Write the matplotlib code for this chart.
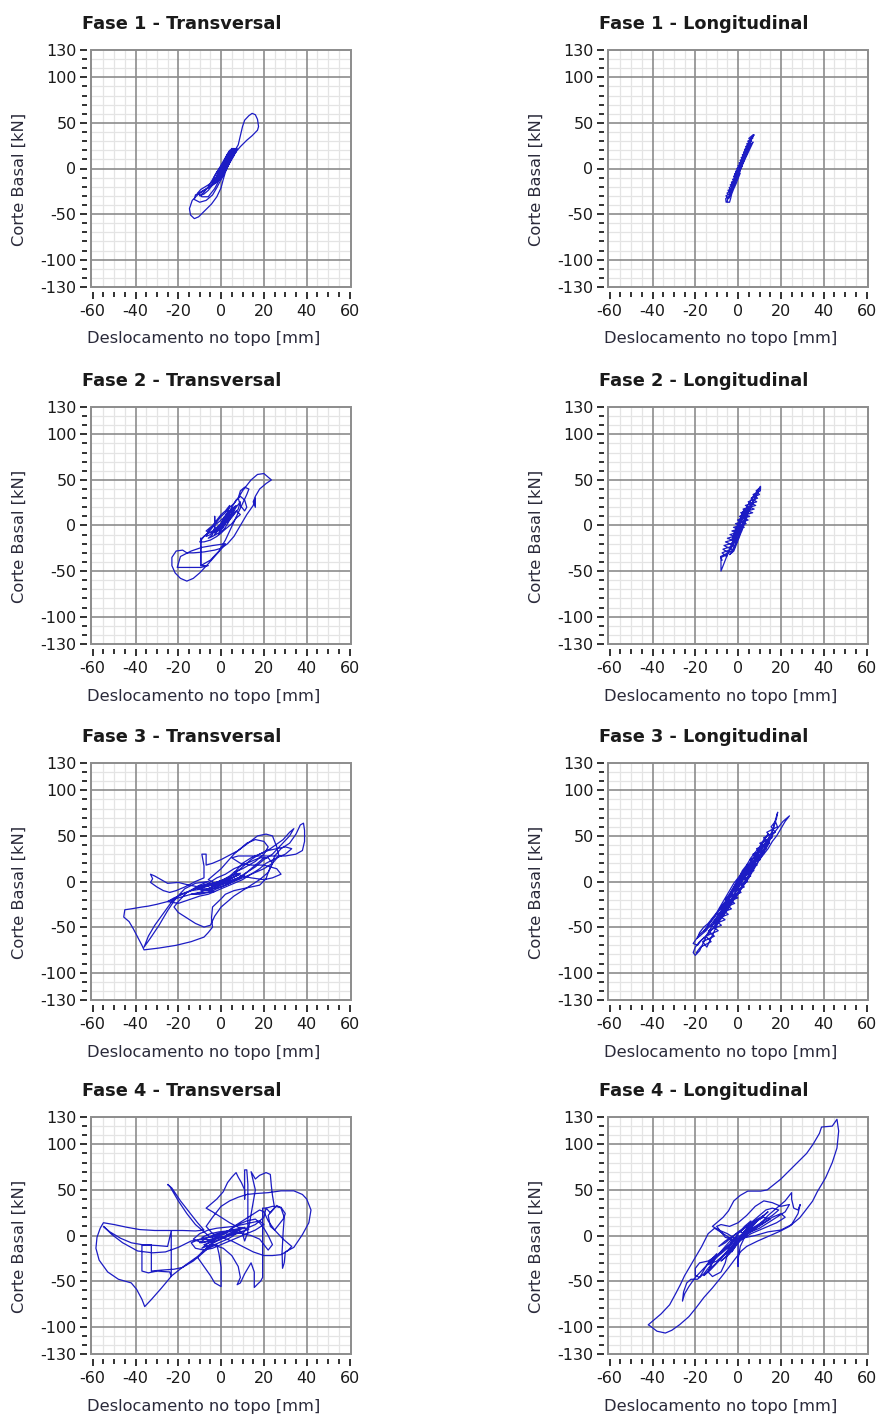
import matplotlib
matplotlib.use("Agg")
import matplotlib.pyplot as plt
from matplotlib.patches import Rectangle

plt.rcParams["axes.unicode_minus"] = False

# Hysteresis loops (displacement mm, base shear kN)
fase1_trans = [
    (0, 0), (2, 6), (4, 14), (6, 19), (5, 21), (3, 12), (1, 4), (-1, -4), (-2, -10), (-1, -6),
    (1, 2), (3, 10), (5, 16), (6, 20), (4, 16), (2, 6), (0, -2), (-2, -8), (-3, -14), (-1, -8),
    (0, -2), (2, 8), (4, 12), (6, 22), (7, 18), (5, 12), (3, 4), (1, -4), (-1, -12), (-3, -16),
    (-2, -10), (0, -4), (2, 4), (5, 14), (8, 26), (9, 36), (10, 46), (11, 53), (13, 58), (14.5, 60.5),
    (16, 59), (17, 54), (17.5, 46), (17, 42), (14.5, 36), (12, 31), (9, 24), (6.5, 17), (4.5, 9),
    (2.5, 0), (0.5, -10), (-2, -15), (-5, -20), (-8, -24), (-11, -29), (-13.5, -35), (-14.8, -44),
    (-14.3, -51), (-12.5, -55), (-10.5, -53), (-7.5, -46), (-4.5, -39), (-2, -31), (0, -21), (1, -12),
    (2, -4), (3.5, 4), (4.5, 12), (6, 18), (5, 19), (3, 11), (1, 2), (-1, -7), (-3, -14), (-6, -21),
    (-9, -25), (-12, -29), (-12.5, -34), (-10, -37), (-7, -35), (-4, -29), (-2, -21), (0, -12), (2, -2),
    (4, 8), (6, 17), (7.5, 22), (6, 20), (4, 13), (2, 3), (0, -6), (-3, -13), (-6, -18), (-9.5, -23),
    (-11, -27), (-9, -31), (-6, -31), (-3, -22), (-1, -13), (1, -3), (3, 7), (5, 15), (7, 21), (5, 17),
    (3, 9), (1, 0), (-1, -6), (0, -1),
    (2, 10), (4, 18), (6, 22), (5, 18), (4, 20), (2, 12), (0, 4), (-1, -2), (-2, -8), (-3, -12),
    (-2, -14), (-1, -8), (0, -4), (1, 4), (3, 12), (5, 20), (6, 18), (4, 10), (2, 4), (0, -4),
    (-2, -10), (-4, -14), (-3, -8), (-1, 0), (1, 6), (3, 16), (5, 22), (7, 20), (6, 14), (4, 6),
    (2, -2), (0, -8), (-2, -14), (-4, -18), (-6, -24), (-8, -28), (-10, -30), (-8, -26), (-6, -20),
    (-4, -12), (-2, -4), (0, 2),
]

fase1_long = [
    (0, 0), (1, 5), (2, 10), (3, 15), (2, 12), (3, 18), (4, 22), (3, 17), (4, 24), (5, 27), (6, 30),
    (5, 28), (6, 33), (7, 36), (7.5, 37), (6.5, 34), (6, 31), (5, 25), (4, 21), (3, 16), (2, 11),
    (1, 6), (0, 1), (-1, -4), (-2, -9), (-1, -8), (-2, -13), (-3, -17), (-2, -16), (-3, -21), (-4, -25),
    (-3.5, -27), (-4, -31), (-5, -34), (-5, -37), (-4, -37), (-3.5, -33), (-3, -28), (-2, -22), (-1, -17),
    (0, -11), (1, -5), (0, -6), (1, -1), (2, 3), (1, 2), (2, 7), (3, 11), (4, 17), (5, 21), (6, 26),
    (5, 23), (4, 18), (3, 13), (2, 8), (1, 3), (0, -3), (-1, -9), (-2, -15), (-3, -20), (-2, -18),
    (-1, -12), (0, -7), (1, -2), (2, 4), (3, 9), (4, 14), (5, 19), (6, 24), (7, 29), (6, 27), (5, 22),
    (-4.4, -33), (-5.7, -30), (-3.4, -27), (-4.7, -24), (-2.4, -21), (-3.7, -18), (-1.35, -15),
    (-2.6, -12), (-0.3, -9), (-1.6, -6), (0.7, -3), (-0.6, 0), (1.7, 3), (0.4, 6), (2.7, 9),
    (1.4, 12), (3.75, 15), (2.5, 18), (4.8, 21), (3.5, 24), (5.8, 27), (4.5, 30), (6.8, 33),
    (7, 37), (5.0, 33), (6.3, 30), (4.0, 27), (5.3, 24), (3.0, 21), (4.3, 18), (1.95, 15),
    (3.2, 12), (0.9, 9), (2.2, 6), (-0.1, 3), (1.2, 0), (-1.1, -3), (0.2, -6), (-2.1, -9),
    (-0.8, -12), (-3.15, -15), (-1.9, -18), (-4.2, -21), (-2.9, -24), (-5.2, -27), (-3.9, -30),
    (-5.8, -33), (-5.6, -37), (-5.0, -36),
]

fase2_trans = [
    (0, 0), (2, 6), (4, 12), (3, 8), (1, 2), (-1, -4), (-3, -8), (-2, -4), (0, 2), (2, 10), (4, 16),
    (6, 20), (5, 14), (3, 6), (1, -2), (-1, -8), (-4, -12), (-6, -14), (-4, -10), (-3, -2), (-3, 10),
    (-3, -4), (-1, -6), (1, 0), (3, 8), (5, 12), (7, 20), (9, 26), (8, 18), (6, 12), (4, 6), (2, -2),
    (0, -8), (-2, -12), (-5, -16), (-8, -18), (-10, -18), (-8, -12), (-6, -8), (-4, -2), (-2, 4),
    (0, 10), (2, 14), (4, 20), (6, 24), (8, 30), (10, 38), (12, 44), (14, 50), (17, 56), (20, 57),
    (22, 53), (23.5, 50), (21, 46), (18, 40), (16, 32), (15, 26), (16, 20), (16, 30), (15, 22),
    (12, 12), (10, 4), (8, -4), (6, -12), (3, -20), (0, -25), (-3, -27), (-8, -29), (-13, -30),
    (-16, -30), (-18, -27), (-21, -28), (-23, -35), (-23, -44), (-21.5, -52), (-19, -58), (-16, -61),
    (-13, -58), (-10, -52), (-6, -42), (-3, -34), (0, -26), (2, -20), (-4, -22), (-9, -24), (-14, -28),
    (-19, -34), (-20.5, -46), (-14, -46), (-9.5, -46), (-6, -44), (-9.5, -44), (-9.5, -14),
    (-9.5, -44), (-5, -38), (-1, -28), (2, -16), (4, -6), (6, 4), (8, 14), (10, 24), (12, 34),
    (13, 40), (11, 42), (9, 38), (8, 30), (9, 22), (11, 16), (12, 20), (11, 28), (9, 32), (7, 28),
    (5, 20), (3, 12), (1, 4), (-1, -2), (-3, -6), (-5, -10), (-7, -12), (-6, -6), (-4, 0), (-2, 6),
    (0, 12), (2, 16), (4, 22), (3, 14), (1, 6), (-1, -2), (-3, -10), (-1, -4), (1, 2), (3, 4), (5, 10),
    (7, 16), (9, 12), (7, 8), (5, 2), (3, -2), (1, -6), (-1, -10), (0, -4), (2, 2),
    (4, 10), (6, 16), (4, 14), (2, 6), (0, -2), (-2, -6), (-5, -8), (-7, -6), (-5, -2), (-2, 2),
    (1, 8), (3, 14), (5, 18), (7, 22), (5, 16), (2, 8), (-1, 0), (-4, -6), (-7, -10), (-9, -14),
]

fase2_long = [
    (0, 0), (1, 6), (2, 12), (3, 18), (2, 14), (1, 8), (0, 2), (-1, -4), (-2, -10), (-3, -16),
    (-2, -12), (-1, -6), (0, 0), (1, 4), (2, 10), (3, 14), (4, 20), (5, 24), (6, 28), (7, 32),
    (8, 34), (9, 38), (10.5, 43), (10, 40), (8, 32), (7, 26), (6, 22), (5, 16), (4, 10), (3, 4),
    (2, -2), (1, -8), (0, -14), (-1, -20), (-2, -24), (-3, -28), (-5, -30), (-6, -33), (-8, -35),
    (-8, -42), (-8, -50), (-7, -44), (-6, -38), (-5, -32), (-4, -26), (-3, -20), (-2, -14), (-1, -8),
    (0, -4), (1, 2), (2, 6), (3, 10), (4, 14), (5, 18), (6, 22), (7, 26), (6, 24), (5, 20), (4, 16),
    (3, 12), (2, 8), (1, 4), (0, -2), (-1, -10), (-2, -18), (-3, -22), (-4, -26), (-3, -24),
    (-2, -20), (-1, -14), (0, -8), (1, -2), (2, 2), (3, 6), (4, 8), (3, 2), (2, -4), (1, -10),
    (0, -16), (-1, -22), (-2, -28), (-3, -30), (-4, -32), (-2, -26), (0, -12), (2, 0), (4, 12),
    (6, 20), (8, 30), (9, 36),
    (-5.4, -34), (-7.5, -30), (-3.1, -26), (-6.6, -22), (-0.7, -18), (-5.0, -14), (0.8, -10),
    (-2.9, -6), (2.85, -2), (-1.25, 2), (4.7, 6), (0.6, 10), (6.8, 14), (2.3, 18), (8.2, 22),
    (4.7, 26), (9.1, 30), (7.0, 34), (10.4, 38), (10.5, 42), (8.4, 38), (10.0, 34), (6.1, 30),
    (8.7, 26), (3.4, 22), (7.5, 18), (1.2, 14), (5.4, 10), (-0.3, 6), (3.75, 2), (-2.15, -2),
    (1.7, -6), (-3.8, -10), (0.2, -14), (-5.9, -18), (-1.8, -22), (-7.1, -26), (-4.5, -30),
    (-8.2, -34), (-7.5, -38),
]

fase3_trans = [
    (0, 0), (-3, -2), (-6, -5), (-9, -7), (-5, -3), (-2, -1), (2, 2), (5, 4), (8, 7), (4, 3), (1, 0),
    (-2, -3), (-5, -7), (-8, -9), (-11, -8), (-7, -5), (-3, -4), (0, -2), (3, 1), (6, 5), (9, 9),
    (6, 7), (3, 4), (0, 1), (-4, -2), (-8, -4), (-12, -6), (-9, -10), (-5, -9), (-1, -5), (3, -1),
    (7, 3), (11, 7), (8, 4), (4, 1),
    (0, -2), (-5, -4), (-10, -6), (-15, -4), (-20, -1), (-25, -2), (-28, 2), (-31, 6), (-33, 8),
    (-32, 3), (-33, -1), (-30, -6), (-27, -10), (-24, -12), (-21, -10), (-17, -6),
    (-12, 0), (-8, 4), (-8, 17), (-9, 30), (-7, 30), (-7, 18), (-4, 20), (0, 24), (4, 29), (8, 34),
    (12, 41), (17, 50), (21, 52), (24, 50), (26, 38), (27, 28), (24, 20), (22, 10), (21, 3), (18, -4),
    (14, -6), (10, -8), (6, -10), (2, -14), (0, -19),
    (-4, -28), (-4.5, -40), (-4, -50), (-6, -56), (-8, -61), (-14, -66), (-21, -70), (-29, -73),
    (-36, -75), (-37, -70), (-39, -61), (-41, -52), (-43, -44), (-45.5, -39), (-45, -31), (-42, -30),
    (-37, -28), (-34, -27), (-30, -25), (-25, -22), (-20, -18), (-14, -14), (-8, -12), (-3, -11),
    (-8, -8), (-14, -10), (-19, -14), (-23, -22), (-27, -35), (-31, -48), (-34, -60), (-36, -72),
    (-33, -62), (-29, -48), (-25, -32), (-21, -18), (-17, -8), (-12, -2), (-6, 0),
    (-10, -4), (-16, -12), (-20, -22), (-22, -28), (-20, -34), (-16, -40), (-12, -46), (-8, -50),
    (-5, -48), (-3, -38), (0, -28), (3, -22), (6, -16), (10, -10),
    (14, -4), (18, 2), (22, 10), (24, 20), (25, 28), (28, 36), (32, 42), (35, 52), (37, 62),
    (38.5, 64), (39, 56), (39, 44), (38, 34), (35, 30), (30, 28), (25, 28), (20, 28), (14, 28),
    (8, 28), (5, 26), (9, 20), (14, 18), (20, 18), (26, 14), (28, 8), (24, 4), (20, 2), (14, 4),
    (10, 6), (6, 10), (10, 14), (16, 22), (20, 30), (22, 38), (20, 44), (16, 46), (12, 42), (9, 36),
    (6, 30), (3, 22), (0, 14), (-3, 8), (-6, 2), (-3, -2), (1, 2), (4, 6), (7, 12), (10, 20),
    (14, 26), (18, 30), (23, 36), (29, 46), (32, 54), (34, 58), (32, 50), (28, 40), (24, 30),
    (20, 24), (16, 16), (12, 10), (8, 4), (4, -2), (0, -6), (-4, -8), (-7, -9), (-4, -6), (0, -3),
    (3, -1), (8, 2), (12, 6), (16, 10), (20, 14), (24, 20), (22, 26), (18, 26), (14, 22), (10, 18),
    (6, 14), (2, 8), (-2, 4), (-6, -2), (-10, -6), (-14, -10), (-18, -14), (-22, -18), (-25, -22),
    (-20, -24), (-15, -20), (-10, -16), (-6, -14), (-2, -10), (2, -6), (6, -2), (10, 2), (14, 8),
    (18, 14), (21, 20), (26, 26), (30, 30), (33, 36), (30, 38), (26, 36), (22, 34), (18, 30),
    (14, 24), (10, 16), (6, 8), (2, 2), (-2, -4), (-6, -8), (-10, -12), (-14, -14), (-10, -14),
    (-6, -12), (-2, -8), (2, -4), (6, 0), (9, 4), (12, 10), (15, 16), (18, 22), (20, 26),
]

fase3_long = [
    (0, 0), (2, 6), (4, 12), (6, 18), (4, 14), (2, 8), (0, 2), (-2, -6), (-4, -14), (-6, -20),
    (-4, -16), (-2, -10), (0, -4), (2, 2), (4, 8), (6, 14), (8, 22), (10, 28), (12, 34), (14, 42),
    (15, 48), (14, 40), (12, 32), (10, 24), (8, 16), (6, 8), (4, 0), (2, -6), (0, -14), (-2, -20),
    (-4, -28), (-6, -34), (-8, -40), (-10, -46), (-12, -52), (-14, -58), (-16, -62), (-18, -66),
    (-20, -72), (-21, -78), (-20, -81), (-18, -76), (-16, -66), (-14, -56), (-12, -48), (-10, -40),
    (-8, -32), (-6, -24), (-4, -16), (-2, -8), (0, 0), (2, 6), (4, 14), (6, 22), (8, 28), (10, 34),
    (12, 40), (14, 46), (16, 54), (17, 62), (18, 70), (18.5, 76), (18, 72), (17, 64), (16, 56),
    (15, 50), (13, 44), (11, 36), (9, 28), (7, 20), (5, 12), (3, 4), (1, -4), (-1, -12), (-3, -20),
    (-5, -28), (-7, -36), (-9, -42), (-11, -50), (-13, -54), (-15, -60), (-17, -64), (-19, -70),
    (-21, -68), (-18, -58), (-15, -52), (-13, -44), (-11, -38), (-9, -32), (-7, -26), (-5, -20),
    (-3, -12), (-1, -4), (1, 2), (3, 10), (5, 16), (7, 22), (9, 30), (11, 36), (13, 42), (15, 48),
    (17, 54), (19, 60), (21, 66), (23, 70), (24, 72), (22, 66), (20, 58), (18, 50), (16, 44),
    (14, 36), (12, 30), (10, 24), (8, 18), (6, 10), (4, 2), (2, -6), (0, -12), (-2, -18), (-4, -24),
    (-6, -30), (-8, -36), (-10, -42), (-12, -48), (-14, -50), (-16, -54), (-14, -48), (-12, -42),
    (-10, -36), (-8, -28), (-6, -22), (-4, -14), (-2, -6), (0, 2), (2, 8), (4, 16),
    (2, 10), (0, 4), (-2, -2), (-4, -10), (-6, -18), (-8, -26), (-10, -34), (-12, -40), (-14, -46),
    (-16, -50), (-18, -56), (-19, -62), (-17, -58), (-15, -54), (-13, -48), (-11, -42), (-9, -36),
    (-7, -30), (-5, -22), (-3, -14), (-1, -6), (1, 0), (3, 6), (5, 14), (7, 18), (9, 24), (11, 30),
    (13, 38), (14, 44), (16, 50), (15, 46), (13, 40), (11, 32), (9, 26), (7, 16), (5, 8), (3, 0),
    (1, -8), (-1, -16), (-3, -22), (-5, -30), (-7, -38), (-9, -44), (-11, -46), (-9, -40), (-7, -32),
    (-5, -26), (-3, -18), (-1, -10), (1, -2), (3, 8), (5, 18), (7, 26), (9, 32), (11, 40), (13, 48),
    (14, 52), (12, 46), (10, 38), (8, 32), (6, 26), (4, 18), (2, 12),
    (-14.6, -72), (-16.6, -66), (-11.1, -60), (-13.9, -54), (-7.8, -48), (-11.1, -42), (-4.6, -36),
    (-8.1, -30), (-1.6, -24), (-5.1, -18), (1.4, -12), (-2.1, -6), (4.4, 0), (0.9, 6), (7.4, 12),
    (3.9, 18), (10.4, 24), (6.9, 30), (13.2, 36), (10.1, 42), (15.9, 48), (13.4, 54), (18.4, 60),
    (17.4, 66), (15.4, 60), (17.4, 54), (11.9, 48), (14.7, 42), (8.6, 36), (11.9, 30), (5.4, 24),
    (8.9, 18), (2.4, 12), (5.9, 6), (-0.6, 0), (2.9, -6), (-3.6, -12), (-0.1, -18), (-6.6, -24),
    (-3.1, -30), (-9.6, -36), (-6.1, -42), (-12.4, -48), (-9.3, -54), (-15.1, -60), (-12.6, -66),
    (-17.6, -72), (-19.5, -78),
]

fase4_trans = [
    (0, 0), (-3, -3), (-6, -5), (-9, -2), (-5, 2), (-1, 4), (3, 5), (7, 6), (10, 4), (6, 1), (2, -1),
    (-2, -2), (-6, -6), (-10, -8), (-7, -3), (-3, 0), (1, 3), (5, 6), (9, 8), (13, 7), (8, 3), (4, 0),
    (0, -4), (-4, -7), (-8, -10), (-5, -12), (-1, -8), (3, -4), (6, 0), (2, 2), (-2, 0), (-5, -2),
    (-8, 4), (-12, 12), (-16, 24), (-20, 38), (-24, 54), (-25, 56), (-23, 52), (-19, 38), (-15, 26),
    (-11, 14), (-8, 6),
    (-12, 5), (-18, 5.5), (-24, 5.5), (-31, 5.5), (-38, 6.5), (-44, 9), (-50, 12), (-55, 14),
    (-56.5, 8), (-58, -2), (-58.5, -14), (-57, -27), (-53, -40), (-48, -48), (-42, -52), (-39.5, -59),
    (-37, -70), (-35.7, -78), (-32.5, -70), (-28, -58), (-23, -44), (-17, -33), (-11, -23), (-6, -12),
    (-3, -6),
    (-8, -4), (-14, -6), (-20, -13), (-26, -18), (-32, -19), (-39, -17), (-46, -8), (-51, 1),
    (-55, 10), (-52, 4), (-47, -3), (-42, -8), (-37, -10), (-30, -11), (-25, -12), (-23.3, 5),
    (-23.3, -22), (-23.3, -45), (-24, -40), (-30, -39), (-34, -41), (-37, -39), (-37, -20),
    (-37, -11), (-32.6, -10), (-32.6, -25), (-32.6, -39), (-28, -38), (-22, -37), (-18, -35),
    (-13, -28), (-9, -20), (-6, -14), (-2, -10),
    (-1, -20), (0, -35), (0, -50), (0, -56), (-3, -52), (-5, -44), (-8, -34), (-11, -24), (-8, -16),
    (-4, -10), (1, -14), (5, -22), (8, -34), (9, -46), (7.5, -54), (9, -52), (11, -42), (14, -30),
    (15.5, -40), (15.5, -57), (18.5, -50), (19.4, -46), (19.4, -20), (19.4, 10), (19.4, 30), (21, 30),
    (20, 20), (16, 12), (12, 8), (8, 9), (4, 14), (0, 20), (-4, 26), (-7, 30), (-5, 34), (-2, 40),
    (1, 48), (3, 58), (5, 64), (7, 69), (8, 64), (9.5, 58), (11, 50), (11, 40), (11, 72), (12, 72),
    (12.5, 56), (12.5, 40), (12.5, 20), (12.5, 4), (11, -6), (10, 2), (13, 10), (16, 50), (14, 70),
    (16, 62), (18, 66), (21, 69), (23, 67), (23.5, 54), (24, 44), (25, 30),
    (23, 25), (21, 30), (24, 32), (28, 31), (30, 24), (29, 18), (27, 12), (25, 6), (23, 10),
    (22, 22), (24, 28), (26, 33), (28, 30), (29.5, 20), (29, 4), (28.5, -18), (28.7, -36),
    (29.5, -30), (30, -18),
    (34, -13), (38, 1), (41, 14), (42, 28), (40, 40), (38, 45), (34, 49), (28, 49), (22, 47),
    (16, 46), (12, 45), (8, 42), (4, 38), (0, 32), (-4, 20), (-7, 10), (-4, 2), (0, -2), (5, -6),
    (10, -12), (15, -18), (20, -22), (24, -22), (28, -21), (31, -17), (33, -12), (29, -4), (25, 6),
    (22, 16), (20, 26), (18, 28),
    (14, 22), (10, 16), (6, 10), (3, 4), (0, 0), (-3, -4), (-6, -8), (-9, -14), (-5, -10), (-1, -5),
    (3, 1), (7, 5), (11, 9), (7, 4), (3, -1), (-1, -3),
    (-5, -6), (-9, -8), (-13, -4), (-10, 2), (-6, 6), (-2, 8), (2, 9), (6, 10), (10, 12), (14, 14),
    (18, 16), (20, 12), (16, 6), (12, 2), (8, -2), (4, -6), (0, -10), (-4, -14), (-8, -16),
    (-12, -14), (-14, -8), (-10, -4), (-6, -2), (-2, 2), (2, 4), (6, 4), (10, 2), (14, 0), (18, -4),
    (20, -10), (22, -16), (24, -10), (22, 0), (20, 8), (18, 14), (16, 18), (12, 16), (8, 12),
    (4, 6), (0, 2), (-4, -2),
]

fase4_long = [
    (0, 0), (-3, -6), (-5, -14), (-3, -8), (0, 2), (3, 10), (6, 16), (4, 8), (1, -2), (-2, -10),
    (-4, -18), (-6, -24), (-3, -16), (0, -6), (3, 4), (6, 12), (9, 18), (12, 22), (8, 14), (4, 4),
    (1, -4), (-2, -14), (-5, -22), (-8, -28), (-4, -20), (-1, -10), (2, 0), (5, 8), (8, 14),
    (11, 20), (14, 26), (10, 18), (6, 10), (3, 2), (0, -8), (0, -20), (0, -34), (0, -26), (1, -12),
    (3, -2), (6, 6), (10, 12),
    (14, 22), (18, 30), (22, 38), (24, 44), (25, 47), (25, 40), (26, 30), (28, 28), (29, 34),
    (28, 24), (25, 12), (20, 6), (14, 4), (8, 0), (4, -2), (0, -4), (-3, -4), (-6, -2), (-8, 4),
    (-10, 10), (-8, 12), (-4, 10), (0, 14), (4, 22), (8, 32), (12, 38), (16, 36), (20, 32),
    (24, 34), (22, 26), (18, 20), (14, 14), (10, 8), (6, 4), (2, -2), (-2, -6),
    (-6, -14), (-10, -22), (-14, -28), (-18, -30), (-20, -36), (-20, -44), (-18, -46), (-16, -38),
    (-14, -30), (-10, -20), (-12, -30), (-16, -42), (-19, -48), (-22, -48), (-24, -52),
    (-25.5, -62), (-26, -72), (-25, -64), (-23, -56), (-20, -46), (-16, -36), (-12, -26),
    (-8, -18), (-4, -10), (-6, -30), (-8, -40), (-12, -45), (-14, -40), (-12, -30), (-9, -20),
    (-6, -12), (-3, -4),
    (-7, 2), (-11, 8), (-14, 2), (-17, -12), (-20, -24), (-22.7, -35), (-25, -44), (-27, -54),
    (-29, -63), (-32, -76), (-36, -86), (-40, -94), (-42, -98), (-40.9, -99.6), (-37.9, -105),
    (-34, -107), (-31, -104), (-27.3, -97.8), (-23, -89), (-19.7, -79.5), (-16, -68), (-12, -57.5),
    (-8, -46), (-4.5, -35.5), (-1.5, -26), (1.5, -17), (4, -12), (9, -6.2), (14, -1), (19.7, 4.8),
    (24, 10), (28.8, 19.4), (31, 26), (34.8, 37.7), (37, 48), (40.9, 63.4), (44, 80), (46.2, 96),
    (47, 114.6), (46.2, 127.5), (44, 120), (39, 119), (38, 112), (35, 100), (32, 90), (26, 76),
    (20, 62), (13.6, 50), (10.6, 48.7), (4.5, 48.7), (1, 44), (-2, 38), (-4.5, 27), (-7, 20),
    (-10, 14), (-12, 10), (-9, 6), (-5, 2), (-1, -4), (2, 2), (5, 10), (9, 16), (6, 8), (2, -2),
    (-1, -10), (-3, -18), (0, -8), (3, 2),
    (1, 4), (4, 10), (7, 16), (10, 22), (13, 28), (16, 30), (19, 28), (16, 22), (12, 16), (8, 10),
    (4, 4), (0, -4), (-4, -12), (-8, -20), (-11, -26), (-14, -32), (-10, -28), (-6, -20), (-2, -12),
    (2, -4), (6, 2), (10, 6), (14, 10), (18, 14), (22, 20), (20, 24), (16, 20), (12, 14), (8, 8),
    (4, 2), (0, -6), (-4, -14), (-7, -22), (-10, -30), (-13, -36), (-16, -44), (-13, -38),
    (-9, -28), (-5, -18), (-1, -8), (3, 0), (7, 6), (11, 12), (15, 18), (12, 20), (8, 16), (4, 10),
    (0, 4), (-3, -2), (-6, -8), (-9, -12), (-6, -6), (-2, 0), (2, 6),
]

titles = [
    "Fase 1 - Transversal", "Fase 1 - Longitudinal",
    "Fase 2 - Transversal", "Fase 2 - Longitudinal",
    "Fase 3 - Transversal", "Fase 3 - Longitudinal",
    "Fase 4 - Transversal", "Fase 4 - Longitudinal",
]
series = [fase1_trans, fase1_long, fase2_trans, fase2_long,
          fase3_trans, fase3_long, fase4_trans, fase4_long]

x_ticks = [-60, -40, -20, 0, 20, 40, 60]
y_ticks = [-130, -100, -50, 0, 50, 100, 130]
x_label = "Deslocamento no topo [mm]"
y_label = "Corte Basal [kN]"

# layout in pixels
W, H = 879, 1415
col_left = [91, 608]
row_top = [50, 407, 763, 1117]
pw, ph = 260, 237

line_col = "#1c1cc4"
major_col = "#8c8c8c"
minor_col = "#e4e4e4"
text_col = "#1a1a1a"

fig = plt.figure(figsize=(W / 100, H / 100), dpi=100)

for i, (pts, title) in enumerate(zip(series, titles)):
    r, c = divmod(i, 2)
    left, top = col_left[c], row_top[r]
    ax = fig.add_axes([left / W, 1 - (top + ph) / H, pw / W, ph / H])
    ax.set_xlim(-60.8, 60.7)
    ax.set_ylim(-130, 130)

    # grid drawn by hand so the edge values don't double the frame
    for v in range(-55, 60, 5):
        if v % 20 != 0:
            ax.axvline(v, color=minor_col, lw=0.9, zorder=0)
    for v in range(-120, 130, 10):
        if v % 50 != 0:
            ax.axhline(v, color=minor_col, lw=0.9, zorder=0)
    for v in [-40, -20, 0, 20, 40]:
        ax.axvline(v, color=major_col, lw=1.2, zorder=1)
    for v in [-100, -50, 0, 50, 100]:
        ax.axhline(v, color=major_col, lw=1.2, zorder=1)
    ax.add_patch(Rectangle((0, 0), 1, 1, transform=ax.transAxes, fill=False,
                           ec=major_col, lw=1.4, zorder=1, clip_on=False))

    xs = [p[0] for p in pts]
    ys = [p[1] for p in pts]
    ax.plot(xs, ys, color=line_col, lw=0.9, zorder=3)

    for s in ax.spines.values():
        s.set_visible(False)
    ax.spines["left"].set_position(("outward", 2.7))
    ax.spines["bottom"].set_position(("outward", 3.6))

    ax.set_xticks(x_ticks)
    ax.set_yticks(y_ticks)
    ax.set_xticks(range(-55, 60, 5), minor=True)
    ax.set_yticks([v for v in range(-120, 130, 10) if v % 50 != 0], minor=True)
    ax.tick_params(axis="x", which="major", direction="out", length=4.8, width=1.3,
                   color="#222222", labelsize=11.5, labelcolor=text_col, pad=4)
    ax.tick_params(axis="x", which="minor", direction="out", length=3.8, width=1.3,
                   color="#222222")
    ax.tick_params(axis="y", which="major", direction="out", length=5.2, width=1.3,
                   color="#222222", labelsize=11.5, labelcolor=text_col, pad=2.5)
    ax.tick_params(axis="y", which="minor", direction="out", length=3.4, width=1.3,
                   color="#222222")

    fig.text((left - 9) / W, 1 - (top - 21) / H, title, fontsize=12.8,
             fontweight="bold", color=text_col, ha="left", va="baseline")
    fig.text((left + 113) / W, 1 - (top + ph + 52) / H, x_label, fontsize=11.7,
             color="#2a2a3a", ha="center", va="center")
    fig.text((left - 72) / W, 1 - (top + 129) / H, y_label, fontsize=11.7,
             color="#2a2a3a", ha="center", va="center", rotation=90)

fig.savefig("out.png", dpi=100)
